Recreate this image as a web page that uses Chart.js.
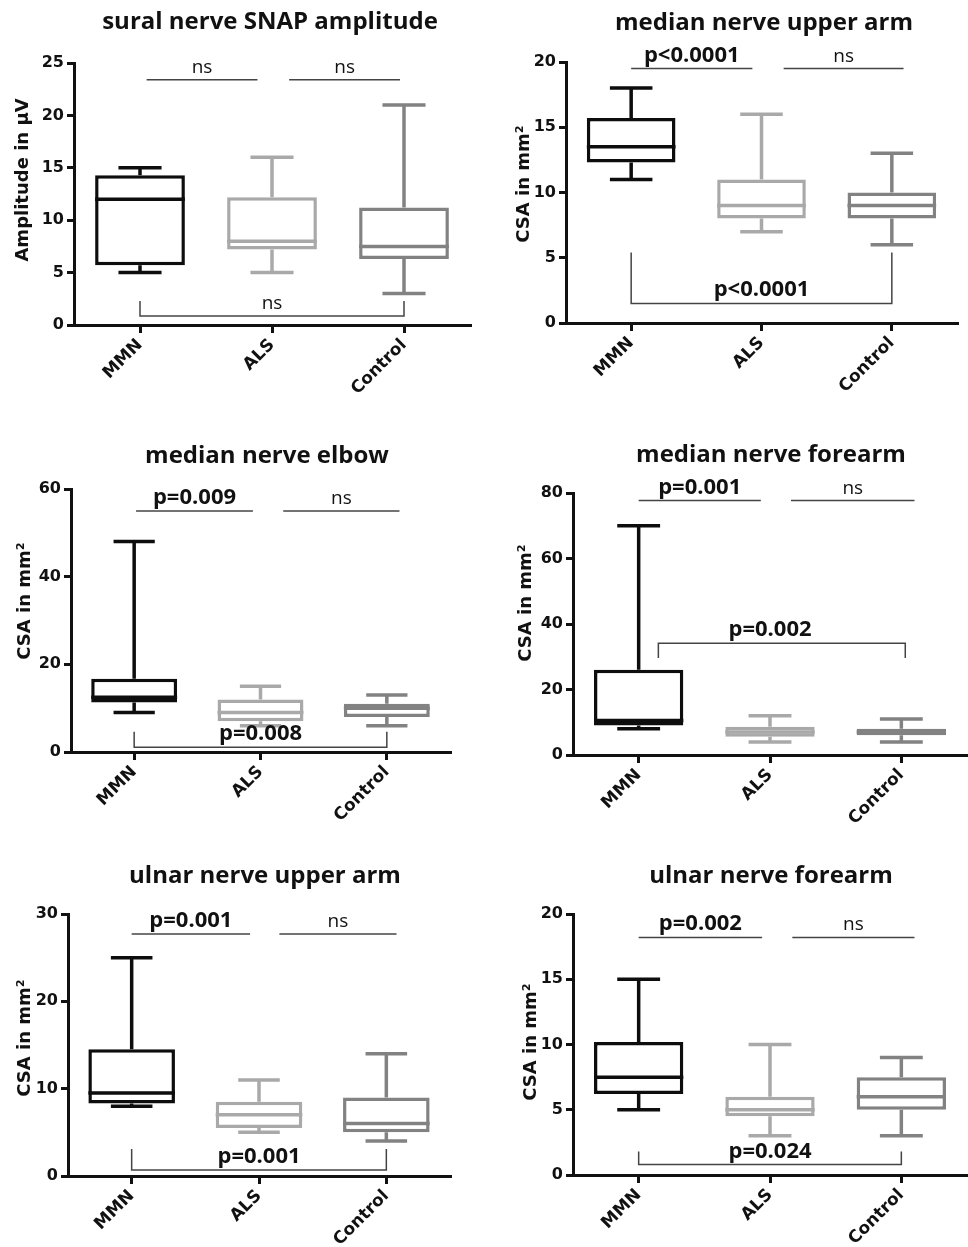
<!DOCTYPE html>
<html>
<head>
<meta charset="utf-8">
<script src="https://cdn.jsdelivr.net/npm/chart.js@4.4.0/dist/chart.umd.min.js"></script>
<style>
  html, body { margin: 0; padding: 0; background: #fff; }
  #page { position: relative; width: 968px; height: 1247px; overflow: hidden; }
  .panel { position: absolute; }
</style>
</head>
<body>
<div id="page"></div>
<script>
const groups = ["MMN", "ALS", "Control"];

// five-number summaries per group: min, q1, median, q3, max
const suralAmp = [[5, 5.7, 12, 14.3, 15], [5, 7.2, 8, 12.2, 16], [3, 6.3, 7.5, 11.2, 21]];
const medianUpperArm = [[11, 12.3, 13.5, 15.7, 18], [7, 8, 9, 11, 16], [6, 8, 9, 10, 13]];
const medianElbow = [[9, 11.3, 12.5, 16.7, 48], [6, 7, 9, 12, 15], [6, 8, 10, 11, 13]];
const medianForearm = [[8, 9, 10.5, 26, 70], [4, 5.6, 7, 8.6, 12], [4, 6, 7, 8, 11]];
const ulnarUpperArm = [[8, 8.3, 9.5, 14.5, 25], [5, 5.5, 7, 8.5, 11], [4, 5, 6, 9, 14]];
const ulnarForearm = [[5, 6.2, 7.5, 10.2, 15], [3, 4.5, 5, 6, 10], [3, 5, 6, 7.5, 9]];

const panelTitles = [
  "sural nerve SNAP amplitude", "median nerve upper arm",
  "median nerve elbow", "median nerve forearm",
  "ulnar nerve upper arm", "ulnar nerve forearm",
];
const yTitles = ["Amplitude in µV", "CSA in mm²", "CSA in mm²", "CSA in mm²", "CSA in mm²", "CSA in mm²"];
const yMax = [25, 20, 60, 80, 30, 20];
const yStep = [5, 5, 20, 20, 10, 5];

// MMN vs ALS, ALS vs Control, MMN vs Control
const pLabels = [
  ["ns", "ns", "ns"],
  ["p<0.0001", "ns", "p<0.0001"],
  ["p=0.009", "ns", "p=0.008"],
  ["p=0.001", "ns", "p=0.002"],
  ["p=0.001", "ns", "p=0.001"],
  ["p=0.002", "ns", "p=0.024"],
];

const summaries = [suralAmp, medianUpperArm, medianElbow, medianForearm, ulnarUpperArm, ulnarForearm];
const groupColors = ["#0d0d0d", "#a9a9a9", "#828282"];

// layout of each panel on the page (pixels)
const panelBoxes = [
  { left: 0,   top: 0,   w: 484, h: 420, areaL: 74, areaR: 470, areaT: 63, areaB: 325, titleX: 270, titleY: 29, yTitleX: 23, yTitleY: 180 },
  { left: 484, top: 0,   w: 484, h: 420, areaL: 82, areaR: 473, areaT: 62, areaB: 323, titleX: 280, titleY: 30, yTitleX: 40, yTitleY: 184 },
  { left: 0,   top: 420, w: 484, h: 420, areaL: 71, areaR: 450, areaT: 69, areaB: 332, titleX: 267, titleY: 43, yTitleX: 25, yTitleY: 181 },
  { left: 484, top: 420, w: 484, h: 420, areaL: 89, areaR: 483, areaT: 73, areaB: 335, titleX: 287, titleY: 42, yTitleX: 42, yTitleY: 183 },
  { left: 0,   top: 840, w: 484, h: 407, areaL: 68, areaR: 450, areaT: 74, areaB: 336, titleX: 265, titleY: 43, yTitleX: 25, yTitleY: 198 },
  { left: 484, top: 840, w: 484, h: 407, areaL: 89, areaR: 483, areaT: 74, areaB: 335, titleX: 287, titleY: 43, yTitleX: 47, yTitleY: 202 },
];

// where the significance brackets sit (y in data units, x in category index)
const bracketSpec = [
  { top: 23.4, spans: [[0.05, 0.89], [1.13, 1.97]], low: [2.3, 0.86], lowSpan: [0, 2] },
  { top: 19.5, spans: [[0, 0.93], [1.17, 2.09]], low: [5.4, 1.5], lowSpan: [0, 2] },
  { top: 55, spans: [[0.015, 0.94], [1.18, 2.1]], low: [4.6, 1.1], lowSpan: [0, 2] },
  { top: 77.7, spans: [[0, 0.93], [1.16, 2.1]], low: [29.6, 34.1], lowSpan: [0.15, 2.03] },
  { top: 27.7, spans: [[0, 0.93], [1.16, 2.08]], low: [3.1, 0.7], lowSpan: [0, 2] },
  { top: 18.2, spans: [[0, 0.94], [1.17, 2.1]], low: [1.8, 0.8], lowSpan: [0, 2] },
];

function labelFont(text) {
  return text.startsWith("p") ? 'bold 22px "Open Sans"' : '19px "Open Sans"';
}

// whiskers, medians, brackets, panel title and y-axis title
const boxExtras = {
  id: "boxExtras",
  afterDraw(chart, args, opts) {
    const ctx = chart.ctx;
    const xs = chart.scales.x;
    const ys = chart.scales.y;
    const bars = chart.getDatasetMeta(0).data;
    ctx.save();
    ctx.lineCap = "butt";

    opts.stats.forEach((s, i) => {
      const bar = bars[i];
      const half = bar.width / 2;
      const cap = bar.width * 0.24;
      ctx.strokeStyle = groupColors[i];
      ctx.lineWidth = 3.5;
      ctx.beginPath();
      ctx.moveTo(bar.x, ys.getPixelForValue(s[3]));
      ctx.lineTo(bar.x, ys.getPixelForValue(s[4]));
      ctx.moveTo(bar.x, ys.getPixelForValue(s[1]));
      ctx.lineTo(bar.x, ys.getPixelForValue(s[0]));
      [s[0], s[4]].forEach(v => {
        const py = ys.getPixelForValue(v);
        ctx.moveTo(bar.x - cap, py);
        ctx.lineTo(bar.x + cap, py);
      });
      const pm = ys.getPixelForValue(s[2]);
      ctx.moveTo(bar.x - half, pm);
      ctx.lineTo(bar.x + half, pm);
      ctx.stroke();
    });

    const b = opts.bracket;
    ctx.strokeStyle = "#444";
    ctx.lineWidth = 1.5;
    ctx.fillStyle = "#111";
    ctx.textAlign = "center";
    ctx.textBaseline = "alphabetic";

    const yTop = ys.getPixelForValue(b.top);
    b.spans.forEach((span, k) => {
      const x0 = xs.getPixelForValue(span[0]);
      const x1 = xs.getPixelForValue(span[1]);
      ctx.beginPath();
      ctx.moveTo(x0, yTop);
      ctx.lineTo(x1, yTop);
      ctx.stroke();
      ctx.font = labelFont(opts.labels[k]);
      ctx.fillText(opts.labels[k], (x0 + x1) / 2, yTop - 7);
    });

    const yLine = ys.getPixelForValue(b.low[1]);
    const yEnd = ys.getPixelForValue(b.low[0]);
    const l0 = xs.getPixelForValue(b.lowSpan[0]);
    const l1 = xs.getPixelForValue(b.lowSpan[1]);
    ctx.beginPath();
    ctx.moveTo(l0, yEnd);
    ctx.lineTo(l0, yLine);
    ctx.lineTo(l1, yLine);
    ctx.lineTo(l1, yEnd);
    ctx.stroke();
    ctx.font = labelFont(opts.labels[2]);
    ctx.fillText(opts.labels[2], xs.getPixelForValue(1), yLine - 7);

    ctx.font = 'bold 24px "Open Sans"';
    ctx.fillText(opts.title, opts.titleX, opts.titleY);

    ctx.translate(opts.yTitleX, opts.yTitleY);
    ctx.rotate(-Math.PI / 2);
    ctx.textBaseline = "middle";
    ctx.font = 'bold 18px "DejaVu Sans"';
    ctx.fillText(opts.yTitle, 0, 0);
    ctx.restore();
  }
};

const page = document.getElementById("page");

function makePanel(i) {
  const box = panelBoxes[i];
  const wrap = document.createElement("div");
  wrap.className = "panel";
  wrap.style.left = box.left + "px";
  wrap.style.top = box.top + "px";
  const canvas = document.createElement("canvas");
  canvas.width = box.w;
  canvas.height = box.h;
  wrap.appendChild(canvas);
  page.appendChild(wrap);

  const tickFont = { family: "DejaVu Sans", weight: "bold", size: 16 };

  new Chart(canvas, {
    type: "bar",
    data: {
      labels: groups,
      datasets: [{
        data: summaries[i].map(s => [s[1], s[3]]),
        backgroundColor: "#ffffff",
        borderColor: groupColors,
        borderWidth: 3.5,
        borderSkipped: false,
        barPercentage: 0.68,
        categoryPercentage: 1,
      }]
    },
    options: {
      responsive: false,
      animation: false,
      devicePixelRatio: 1,
      layout: { padding: { left: 0, right: box.w - box.areaR, top: box.areaT, bottom: 0 } },
      plugins: {
        legend: { display: false },
        tooltip: { enabled: false },
        boxExtras: {
          stats: summaries[i],
          labels: pLabels[i],
          bracket: bracketSpec[i],
          title: panelTitles[i],
          titleX: box.titleX,
          titleY: box.titleY,
          yTitle: yTitles[i],
          yTitleX: box.yTitleX,
          yTitleY: box.yTitleY,
        }
      },
      scales: {
        x: {
          offset: true,
          grid: { drawOnChartArea: false, drawTicks: true, tickLength: 8, offset: false, color: "#111", lineWidth: 3 },
          border: { display: true, color: "#111", width: 3 },
          ticks: { font: { ...tickFont, size: 17 }, color: "#111", maxRotation: 45, minRotation: 45, padding: 2 },
          afterFit: s => { s.height = box.h - box.areaB; }
        },
        y: {
          min: 0,
          max: yMax[i],
          ticks: { stepSize: yStep[i], font: tickFont, color: "#111", padding: 3 },
          grid: { drawOnChartArea: false, drawTicks: true, tickLength: 7, color: "#111", lineWidth: 3 },
          border: { display: true, color: "#111", width: 3 },
          afterFit: s => { s.width = box.areaL; }
        }
      }
    },
    plugins: [boxExtras]
  });
}

for (let i = 0; i < panelBoxes.length; i++) {
  makePanel(i);
}
</script>
</body>
</html>
